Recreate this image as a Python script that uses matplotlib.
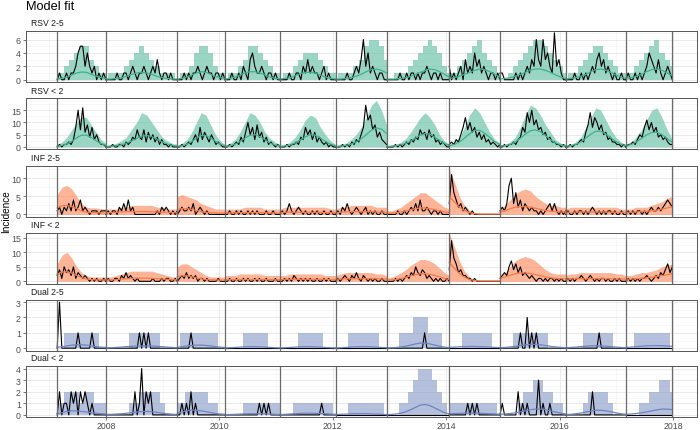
import numpy as np
import matplotlib
matplotlib.use("Agg")
import matplotlib.pyplot as plt

plt.rcParams['font.family'] = ['Liberation Sans', 'DejaVu Sans']

# season boundaries (decimal years)
season_bounds = [2007.14, 2008.00, 2009.26, 2010.10, 2011.07, 2012.05,
                 2012.95, 2014.055, 2014.95, 2016.11, 2017.17, 2017.99]

# ---------------- RSV 2-5 ----------------
rsv25_obs = [
    [0,1,0,0,1,0,1,1,2,4,5,5,2,4,2,1,2,0,1,0,1,0],
    [0,0,0,0,0,1,0,0,1,1,0,1,2,1,0,1,1,2,1,0,1,2,1,3,1,0,1,1,0,1,0,0,0],
    [0,0,0,1,0,1,0,1,1,2,1,0,1,2,1,1,0,1,1,0,1,0],
    [0,0,0,1,0,0,1,0,2,1,0,3,4,2,1,1,2,1,0,1,1,0,1,0,0],
    [0,0,0,0,1,0,0,1,1,0,2,1,3,1,2,1,1,0,1,2,0,1,0,0,0],
    [0,0,0,0,0,1,0,0,1,2,1,3,6,2,4,1,2,1,0,1,1,0,0],
    [0,0,0,0,0,0,1,0,0,1,0,1,1,0,1,0,1,1,2,1,0,1,1,0,1,0,0,0,0],
    [2,0,1,0,1,2,0,3,1,2,1,4,2,3,1,2,1,0,1,1,0,1,0],
    [1,1,0,0,0,0,0,1,0,1,0,1,2,1,3,2,6,3,2,6,3,4,2,1,7,2,3,1,0,0],
    [0,0,0,0,1,0,0,1,0,1,0,1,2,1,3,4,2,3,1,2,1,0,1,0,0,1,0,0],
    [0,1,0,0,1,0,1,0,1,2,4,3,2,1,3,1,0,1,2,1,0],
]
rsv25_upper = [
    [1,1,2,3,4,5,5,3,2,1,1],
    [0,1,1,1,2,3,4,5,4,3,2,1,1,1,0],
    [0,1,1,2,4,5,5,4,2,1,1],
    [0,1,1,2,3,5,5,4,3,2,1,1],
    [0,1,1,2,3,4,4,4,3,2,1,1],
    [0,1,1,1,2,3,5,6,6,5,3],
    [0,0,1,1,1,2,3,4,5,6,5,4,2,1],
    [1,1,2,3,4,5,6,4,3,2,1],
    [0,0,1,2,3,4,5,6,6,5,4,3,2,1],
    [0,1,1,2,3,4,5,5,4,3,2,1,1],
    [1,1,2,3,4,5,6,4,3,2],
]
rsv25_mean = [
    [0.1,0.2,0.4,0.7,1.0,1.15,1.1,0.8,0.5,0.3,0.15],
    [0.1,0.1,0.2,0.3,0.5,0.8,1.0,1.1,1.0,0.8,0.5,0.3,0.2,0.1,0.1],
    [0.1,0.2,0.4,0.7,1.0,1.2,1.1,0.8,0.5,0.3,0.2],
    [0.1,0.2,0.4,0.7,1.0,1.2,1.2,1.0,0.7,0.4,0.2,0.1],
    [0.1,0.2,0.3,0.6,0.9,1.1,1.1,1.0,0.7,0.4,0.2,0.1],
    [0.1,0.1,0.2,0.3,0.5,0.8,1.2,1.5,1.6,1.4,1.0],
    [0.1,0.1,0.1,0.2,0.3,0.5,0.8,1.1,1.4,1.6,1.5,1.2,0.8,0.4],
    [0.2,0.3,0.5,0.8,1.1,1.4,1.6,1.5,1.2,0.8,0.4],
    [0.1,0.2,0.3,0.5,0.8,1.1,1.4,1.6,1.6,1.4,1.1,0.7,0.4,0.2],
    [0.1,0.2,0.3,0.5,0.8,1.2,1.5,1.6,1.4,1.1,0.7,0.4,0.2],
    [0.2,0.3,0.5,0.8,1.2,1.5,1.6,1.4,1.0,0.6],
]

# ---------------- RSV < 2 ----------------
rsv2_obs = [
    [0,1,0,1,1,2,1,3,8,15,7,16,6,9,4,8,3,5,2,1,1,0],
    [0,0,0,1,0,0,1,1,0,2,1,2,4,3,7,4,3,7,2,6,3,5,2,4,1,3,1,1,0,1,0,0,0],
    [0,0,1,0,1,2,1,3,5,2,8,3,6,4,2,5,3,1,2,1,0,0],
    [0,0,1,0,1,2,1,4,2,6,10,5,8,3,9,4,6,2,4,1,2,1,0,1,0],
    [0,0,0,1,0,1,1,2,1,4,3,8,5,7,3,6,2,4,2,1,2,0,1,0,0],
    [0,0,0,1,0,1,0,2,1,3,2,5,8,17,11,13,7,9,4,6,3,2,1],
    [0,0,0,0,1,0,1,0,1,2,1,3,2,4,3,7,5,6,3,7,4,5,2,3,1,2,1,0,0],
    [1,2,1,3,2,5,8,12,7,10,6,8,4,6,3,5,2,3,1,2,1,0,1],
    [0,0,1,0,1,1,2,1,3,4,8,6,14,10,15,9,11,7,8,5,6,3,4,2,2,1,1,0,1,0],
    [0,0,1,0,1,1,2,3,2,6,9,14,8,12,10,7,9,5,6,3,4,2,2,1,1,0,1,0],
    [0,1,1,2,1,3,5,4,8,11,7,10,6,8,4,5,3,4,2,1,1],
]
rsv2_upper = [
    [1,2,4,7,10,12.5,12,9,6,3,1.5],
    [0.5,1,1.5,2.5,4,7,10,14,13,10,7,4,2.5,1.5,1],
    [0.5,1.5,3,6,10,14,13,9,5,2.5,1],
    [0.5,1.5,3,6,10,14,13,10,6,3.5,2,1],
    [0.5,1,2,4,7,11,13,12,8,5,2.5,1],
    [0.5,1,1.5,3,5,8,12,17,19,15,9],
    [0.5,0.5,1,2,3.5,6,9,12,14,12,9,5,2.5,1],
    [1,2,4,8,13,16,14,10,6,3,1.5],
    [0.5,1,2,4,8,13,17,16,13,9,6,3,1.5,1],
    [0.5,1,2,4,8,12,16,15,11,7,4,2,1],
    [1,2,4,7,11,15,16,12,7,3],
]
rsv2_mean = [
    [0.3,0.6,1.2,2.3,3.7,4.8,4.8,3.8,2.5,1.3,0.6],
    [0.2,0.3,0.5,0.9,1.5,2.4,3.4,4.4,4.7,4.2,3.2,2.1,1.2,0.6,0.3],
    [0.2,0.5,1.1,2.2,3.6,4.7,4.6,3.6,2.3,1.1,0.5],
    [0.2,0.5,1.1,2.2,3.6,4.8,5.0,4.2,2.9,1.6,0.8,0.4],
    [0.2,0.4,0.8,1.6,2.8,4.1,5.0,4.8,3.6,2.2,1.1,0.5],
    [0.2,0.3,0.6,1.1,2.0,3.3,5.0,6.8,7.8,7.2,5.5],
    [0.2,0.3,0.5,0.9,1.5,2.4,3.6,4.8,5.5,5.2,4.0,2.6,1.4,0.6],
    [0.5,1.0,2.0,3.6,5.4,6.8,6.8,5.6,3.8,2.1,1.0],
    [0.3,0.5,1.0,2.0,3.5,5.2,6.6,7.0,6.2,4.6,2.9,1.6,0.8,0.4],
    [0.3,0.5,1.0,2.0,3.6,5.2,6.4,6.4,5.3,3.7,2.2,1.1,0.5],
    [0.5,1.0,2.0,3.4,4.9,5.9,6.0,5.0,3.4,1.9],
]

# ---------------- INF 2-5 ----------------
inf25_obs = [
    [1,2,0,2,1,3,1,4,1,2,4,1,2,1,0,1,1,1,0,1,1,1],
    [0,1,0,1,1,0,2,1,3,1,4,1,2,0,0,0,0,0,0,0,0,0,0,1,0,2,1,2,1,0,1,0,1],
    [0,1,2,1,1,2,1,3,0,1,2,1,0,1,0,0,0,0,0,0,0,0],
    [0,0,1,0,0,1,0,1,0,0,1,0,1,0,1,0,0,0,1,0,0,1,0,0,0],
    [0,1,0,1,3,1,0,1,2,1,0,1,0,0,1,0,1,0,0,1,0,0,1,0,0],
    [0,1,0,2,1,3,1,0,1,2,1,0,1,2,0,1,0,1,0,0,1,0,0],
    [0,0,0,0,0,1,0,0,1,0,1,2,1,3,1,4,1,1,2,1,0,1,1,0,1,0,0,0,0],
    [3,11,6,4,2,3,1,2,1,0,1,0,0,0,0,0,0,0,0,0,0,0,0],
    [1,2,1,3,8,10,3,6,2,4,1,3,2,1,2,1,1,0,1,0,1,2,3,1,3,1,0,1,0,1],
    [0,1,0,0,1,0,1,1,0,1,0,1,2,1,0,1,0,1,0,1,1,0,1,0,0,1,0,0],
    [0,1,0,1,0,1,1,0,1,0,1,2,1,1,2,1,2,3,4,3,2],
]
inf25_upper = [
    [5.5,7.5,8,7,5,3,2,1.8,1.8,1.6,1.5],
    [1.5,1.5,1.5,2,2,2.5,2.5,2.5,2.5,2.5,2,2,1.5,1.5,1.5],
    [5,5.5,5,4.5,4,3,2.5,2,1.5,1.5,1.5],
    [1.5,1.5,1.5,1.5,2,2,2,2,1.5,1.5,1.5,1.5],
    [1.5,2,2,2,2,2,2,2,2,2,1.5,1.5],
    [1.5,2,2,2.5,2.5,2.5,2.5,2.5,2,2,2],
    [1,1,1.5,2,3,4,5,6,6,5,4,3,2,1.5],
    [12.5,9,5,2.5,1.2,0.5,0.3,0.3,0.3,0.3,0.3],
    [1.5,2.5,4,5.5,6.5,7,6.5,5,4,3,2.5,2.5,2,2],
    [1.5,2,2,2,2,2,2,2,2,2,2,1.5,1.5],
    [1.5,1.5,2,2,2,2.5,3,3.5,4.5,5],
]
inf25_mean = [
    [1.8,2.4,2.5,2.2,1.6,1.0,0.6,0.5,0.5,0.4,0.4],
    [0.5,0.5,0.6,0.7,0.8,0.8,0.8,0.8,0.8,0.7,0.7,0.6,0.6,0.5,0.5],
    [1.4,1.6,1.6,1.4,1.1,0.8,0.6,0.5,0.4,0.4,0.4],
    [0.4,0.4,0.5,0.5,0.5,0.5,0.5,0.5,0.5,0.4,0.4,0.4],
    [0.5,0.6,0.6,0.6,0.6,0.6,0.6,0.6,0.6,0.5,0.5,0.5],
    [0.5,0.6,0.7,0.8,0.8,0.8,0.8,0.8,0.7,0.7,0.6],
    [0.3,0.4,0.5,0.7,1.0,1.3,1.6,1.8,1.8,1.6,1.3,1.0,0.7,0.5],
    [5.0,3.5,2.0,1.1,0.5,0.2,0.1,0.1,0.1,0.1,0.1],
    [0.7,1.1,1.6,2.0,2.2,2.2,2.0,1.7,1.4,1.1,0.9,0.8,0.7,0.7],
    [0.6,0.6,0.7,0.7,0.7,0.7,0.7,0.7,0.7,0.6,0.6,0.6,0.6],
    [0.6,0.6,0.7,0.8,0.9,1.0,1.2,1.5,1.8,2.2],
]

# ---------------- INF < 2 ----------------
inf2_obs = [
    [2,4,1,5,3,4,2,5,1,3,2,1,2,1,0,1,0,1,0,0,1,0],
    [0,1,0,0,1,1,0,2,1,3,1,2,1,0,1,0,0,0,0,0,0,1,0,0,0,1,0,1,1,0,0,1,0],
    [0,1,2,1,3,1,2,1,2,0,1,1,0,1,0,0,0,0,1,0,0,0],
    [0,0,1,0,0,1,0,0,1,0,1,0,0,1,0,1,0,0,1,0,0,0,1,0,0],
    [0,0,1,0,1,0,2,1,0,1,0,1,0,1,0,0,1,0,0,1,0,1,0,0,0],
    [0,1,0,1,2,1,0,2,1,3,1,0,2,1,0,1,0,1,0,0,1,0,0],
    [0,0,0,0,1,0,1,0,1,2,1,3,2,5,3,2,4,3,1,2,1,0,1,0,1,0,0,1,0],
    [4,14,8,6,3,4,2,2,1,1,0,1,0,0,0,0,0,0,0,0,0,0,0],
    [1,2,3,2,5,7,4,6,3,5,2,3,2,1,2,1,0,1,1,0,1,0,1,1,0,1,0,1,0,0],
    [0,1,0,1,0,1,1,2,1,0,1,2,1,0,1,0,1,1,0,1,0,0,1,0,1,0,0,0],
    [0,1,0,1,0,1,0,1,1,2,1,0,1,2,1,3,2,4,6,3,5],
]
inf2_upper = [
    [6,9,10,8,5,3,2,1.5,1.5,1.5,1.5],
    [1.5,1.5,2,2.5,3,3.5,3.5,3.5,3.5,3.5,3,2.5,2,1.5,1.5],
    [5,6,6,5,4,3,2,1.5,1.5,1.5,1.5],
    [2,2,2,2.5,2.5,2.5,2.5,2.5,2,2,2,2],
    [2,2,2.5,2.5,2.5,2.5,2.5,2.5,2.5,2,2,2],
    [2,2.5,3,3,3,3,3,3,2.5,2.5,2],
    [1,1.5,2,3,4,5.5,6.5,7.5,7.5,7,6,4.5,3,2],
    [16.5,12,7,3.5,1.5,0.6,0.3,0.3,0.3,0.3,0.3],
    [2,3,5,7,8,8.5,8,7,5.5,4,3,2.5,2.5,2.5],
    [2,2.5,2.5,3,3,3,3,3,3,3,2.5,2.5,2],
    [2,2,2.5,3,3,3.5,4,5,5.5,6],
]
inf2_mean = [
    [2.5,3.2,3.3,2.8,2.0,1.3,0.8,0.6,0.5,0.5,0.5],
    [0.5,0.5,0.6,0.8,0.9,1.0,1.1,1.1,1.1,1.0,0.9,0.8,0.7,0.6,0.5],
    [1.6,1.9,1.9,1.6,1.2,0.9,0.6,0.5,0.5,0.4,0.4],
    [0.5,0.6,0.6,0.6,0.6,0.6,0.6,0.6,0.6,0.6,0.5,0.5],
    [0.6,0.7,0.7,0.7,0.7,0.7,0.7,0.7,0.7,0.7,0.6,0.6],
    [0.7,0.8,0.9,0.9,0.9,0.9,0.9,0.9,0.9,0.8,0.8],
    [0.4,0.5,0.7,1.0,1.4,1.9,2.3,2.6,2.6,2.4,2.0,1.5,1.0,0.6],
    [6.5,4.5,2.7,1.4,0.6,0.3,0.1,0.1,0.1,0.1,0.1],
    [1.0,1.5,2.1,2.6,2.9,2.9,2.7,2.3,1.9,1.5,1.2,1.0,0.9,0.9],
    [0.8,0.8,0.9,0.9,0.9,0.9,0.9,0.9,0.9,0.9,0.8,0.8,0.8],
    [0.7,0.8,0.9,1.0,1.2,1.4,1.7,2.0,2.3,2.6],
]

# ---------------- Dual 2-5 ----------------
dual25_obs = [
    [0,3,0,0,0,0,0,0,0,1,0,0,0,0,0,1,0,0,0,0,0,0],
    [0,0,0,0,0,0,0,0,0,0,0,0,0,0,0,1,0,1,0,1,0,0,0,0,0,0,0,0,0,0,0,0,0],
    [0,0,0,0,0,0,1,0,0,0,0,0,0,0,0,0,0,0,0,0,0,0],
    [0,0,0,0,0,0,0,0,0,0,0,0,0,0,0,0,0,0,0,0,0,0,0,0,0],
    [0,0,0,0,0,0,0,0,0,0,0,0,0,0,0,0,0,0,0,0,0,0,0,0,0],
    [0,0,0,0,0,0,0,0,0,0,0,0,0,0,0,0,0,0,0,0,0,0,0],
    [0,0,0,0,0,0,0,0,0,0,0,0,0,0,0,0,0,1,0,0,0,0,0,0,0,0,0,0,0],
    [0,0,0,0,0,0,0,0,0,0,0,0,0,0,0,0,0,0,0,0,0,0,0],
    [0,0,0,0,0,0,0,0,0,1,0,0,2,0,1,0,1,0,0,0,0,0,0,0,0,0,0,0,0,0],
    [0,0,0,0,0,0,0,0,0,0,0,0,0,0,0,1,0,0,0,0,0,0,0,0,0,0,0,0],
    [0,0,0,0,0,0,0,0,0,0,0,0,0,0,0,0,0,0,0,0,0],
]
dual25_upper = [
    [0,0,1,1,1,1,1,1,1,0,0],
    [0,0,0,0,0,1,1,1,1,1,1,0,0,0,0],
    [0,1,1,1,1,1,1,1,1,0,0],
    [0,0,0,0,1,1,1,1,1,0,0,0],
    [0,0,0,0,1,1,1,1,1,0,0,0],
    [0,0,0,1,1,1,1,1,1,0,0],
    [0,0,0,1,1,1,2,2,2,1,1,1,0,0],
    [0,0,0,1,1,1,1,1,1,0,0],
    [0,0,0,1,1,1,1,1,1,1,0,0,0,0],
    [0,0,0,0,1,1,1,1,1,1,0,0,0],
    [0,0,1,1,1,1,1,1,1,0],
]
dual25_mean = [
    [0.05,0.1,0.15,0.2,0.22,0.22,0.2,0.15,0.1,0.07,0.05],
    [0.02,0.03,0.05,0.07,0.1,0.12,0.14,0.15,0.15,0.14,0.12,0.1,0.07,0.05,0.03],
    [0.05,0.1,0.15,0.18,0.2,0.2,0.18,0.15,0.1,0.07,0.05],
    [0.02,0.03,0.05,0.07,0.09,0.1,0.1,0.09,0.07,0.05,0.03,0.02],
    [0.02,0.03,0.05,0.07,0.09,0.1,0.1,0.09,0.07,0.05,0.03,0.02],
    [0.02,0.03,0.05,0.07,0.09,0.1,0.1,0.09,0.07,0.05,0.03],
    [0.02,0.03,0.05,0.08,0.13,0.2,0.28,0.33,0.33,0.28,0.2,0.13,0.07,0.04],
    [0.05,0.07,0.09,0.1,0.11,0.11,0.1,0.09,0.07,0.05,0.04],
    [0.03,0.05,0.08,0.12,0.17,0.22,0.25,0.25,0.22,0.17,0.12,0.08,0.05,0.03],
    [0.03,0.05,0.07,0.1,0.13,0.15,0.16,0.15,0.13,0.1,0.07,0.05,0.03],
    [0.05,0.07,0.1,0.13,0.15,0.17,0.17,0.16,0.14,0.12],
]

# ---------------- Dual < 2 ----------------
dual2_obs = [
    [0,2,0,1,1,0,2,1,2,0,2,1,2,1,0,1,0,0,0,0,0,0],
    [0,0,0,0,0,0,0,0,0,0,0,0,0,2,0,1,4,0,2,1,2,0,0,0,0,0,0,0,0,0,0,0,0],
    [0,0,1,0,1,0,2,0,1,0,0,0,0,0,0,0,0,0,0,0,0,0],
    [0,0,0,0,0,0,0,0,0,0,0,0,0,0,0,1,0,1,0,1,0,0,0,0,0],
    [0,0,0,0,0,0,0,0,0,0,0,0,0,0,0,0,0,0,1,0,0,0,0,0,0],
    [0,0,0,0,0,0,0,0,0,0,0,0,0,0,0,0,0,0,0,0,0,0,0],
    [0,0,0,0,0,0,0,0,0,0,0,0,0,0,0,0,0,0,0,0,0,0,0,0,0,0,0,0,0],
    [0,0,0,0,0,0,0,0,1,0,1,0,1,0,0,0,0,0,0,0,0,0,0],
    [0,1,0,0,0,0,0,0,2,0,1,0,1,0,0,0,0,3,0,1,0,0,1,0,0,0,0,0,0,0],
    [0,0,0,0,0,0,0,0,0,0,0,0,2,0,0,0,0,0,0,0,0,0,0,0,0,0,0,0],
    [0,0,0,0,0,0,0,0,0,0,0,0,0,0,0,0,0,0,0,0,0],
]
dual2_upper = [
    [1,1,2,2,2,1,2,2,1,1,1],
    [0,0,0,0,0,1,1,2,2,2,2,1,0,0,0],
    [1,1,2,2,2,2,2,1,1,0,0],
    [0,0,0,0,1,1,1,1,1,1,1,1],
    [0,0,0,1,1,1,1,1,1,1,1,0],
    [0,0,0,1,1,1,1,1,1,1,0],
    [0,0,0,1,1,2,3,4,4,4,3,2,1,0],
    [1,1,1,1,1,1,1,1,1,1,0],
    [0,0,0,0,1,2,2,3,3,2,2,1,1,0],
    [0,0,0,0,1,2,2,2,2,1,0,0,0],
    [0,0,0,1,1,2,2,3,3,2],
]
dual2_mean = [
    [0.1,0.2,0.3,0.35,0.35,0.3,0.25,0.2,0.15,0.1,0.08],
    [0.03,0.05,0.07,0.1,0.14,0.2,0.25,0.3,0.3,0.27,0.22,0.15,0.1,0.06,0.04],
    [0.15,0.25,0.35,0.42,0.4,0.35,0.28,0.2,0.12,0.08,0.05],
    [0.02,0.03,0.05,0.07,0.09,0.1,0.1,0.1,0.09,0.07,0.05,0.04],
    [0.03,0.05,0.08,0.1,0.13,0.15,0.15,0.14,0.12,0.1,0.07,0.05],
    [0.03,0.05,0.07,0.09,0.1,0.1,0.1,0.09,0.07,0.05,0.03],
    [0.02,0.04,0.08,0.15,0.28,0.45,0.65,0.85,0.9,0.8,0.6,0.4,0.2,0.08],
    [0.1,0.12,0.14,0.15,0.15,0.15,0.14,0.12,0.1,0.08,0.06],
    [0.05,0.08,0.12,0.18,0.26,0.35,0.45,0.5,0.5,0.45,0.35,0.25,0.15,0.08],
    [0.03,0.05,0.1,0.16,0.25,0.33,0.4,0.4,0.35,0.27,0.18,0.1,0.05],
    [0.05,0.08,0.12,0.18,0.26,0.35,0.43,0.5,0.5,0.45],
]

panel_titles = ["RSV 2-5", "RSV < 2", "INF 2-5", "INF < 2", "Dual 2-5", "Dual < 2"]
panel_obs = [rsv25_obs, rsv2_obs, inf25_obs, inf2_obs, dual25_obs, dual2_obs]
panel_upper = [rsv25_upper, rsv2_upper, inf25_upper, inf2_upper, dual25_upper, dual2_upper]
panel_mean = [rsv25_mean, rsv2_mean, inf25_mean, inf2_mean, dual25_mean, dual2_mean]
panel_fill = ["#66c2a5", "#66c2a5", "#fc8d62", "#fc8d62", "#8da0cb", "#8da0cb"]
panel_line = ["#3fb08a", "#3fb08a", "#f77a4a", "#f77a4a", "#6c84c2", "#6c84c2"]
panel_step = [True, False, False, False, True, True]
panel_ylim = [(-0.34, 7.27), (-0.85, 20.0), (-0.56, 13.5), (-0.75, 16.8), (-0.15, 3.17), (-0.18, 4.22)]
panel_yticks = [[0, 2, 4, 6], [0, 5, 10, 15], [0, 5, 10], [0, 5, 10, 15], [0, 1, 2, 3], [0, 1, 2, 3, 4]]

W, H = 700, 431
fig = plt.figure(figsize=(7, 4.31), dpi=100)

left, right = 26, 697.3
tops = [32.0, 99.0, 166.5, 233.5, 300.5, 367.0]
ph = 51.0

fig.text(26 / W, 1 - 7 / H, "Model fit", fontsize=9.2, ha='left', va='center', color='black')
fig.text(6 / W, 1 - 212 / H, "Incidence", fontsize=7.2, rotation=90, ha='center', va='center')

for i in range(6):
    ax = fig.add_axes([left / W, 1 - (tops[i] + ph) / H, (right - left) / W, ph / H])
    ax.set_xlim(2006.59, 2018.43)
    ax.set_ylim(*panel_ylim[i])

    yt = panel_yticks[i]
    ax.set_yticks(yt)
    step = yt[1] - yt[0]
    ax.set_yticks([t + step / 2 for t in yt if t + step / 2 < panel_ylim[i][1]], minor=True)
    ax.set_xticks(range(2008, 2019, 2))
    ax.set_xticks(range(2007, 2019, 2), minor=True)
    ax.grid(which='major', color='#e6e6e6', lw=0.6)
    ax.grid(which='minor', color='#f1f1f1', lw=0.4)
    ax.set_axisbelow(True)

    for k in range(len(season_bounds) - 1):
        a, b = season_bounds[k], season_bounds[k + 1]
        up = panel_upper[i][k]
        xu = np.linspace(a, b, len(up))
        if panel_step[i]:
            ax.fill_between(xu, 0, up, step='mid', color=panel_fill[i], alpha=0.66, lw=0)
        else:
            ax.fill_between(xu, 0, up, color=panel_fill[i], alpha=0.66, lw=0)
        ob = panel_obs[i][k]
        ax.plot(np.linspace(a, b, len(ob)), ob, color='black', lw=0.8)
        mn = panel_mean[i][k]
        ax.plot(np.linspace(a, b, len(mn)), mn, color=panel_line[i], lw=0.9)

    for sb in season_bounds:
        ax.axvline(sb, color='#6b6b6b', lw=0.9)

    for s in ax.spines.values():
        s.set_color('#555555')
        s.set_linewidth(0.7)
    ax.tick_params(which='minor', length=0)
    ax.tick_params(axis='y', which='major', length=2.2, width=0.5, color='#444444',
                   labelsize=6.3, labelcolor='#4d4d4d', pad=1.5)
    if i < 5:
        ax.tick_params(axis='x', which='major', length=0, labelbottom=False)
    else:
        ax.tick_params(axis='x', which='major', length=2.0, width=0.5, color='#444444',
                       labelsize=6.3, labelcolor='#4d4d4d', pad=0.6)

    fig.text((left + 5) / W, 1 - (tops[i] - 8) / H, panel_titles[i], fontsize=6.2,
             ha='left', va='center', color='#1a1a1a')

fig.savefig("out.png", dpi=100)
